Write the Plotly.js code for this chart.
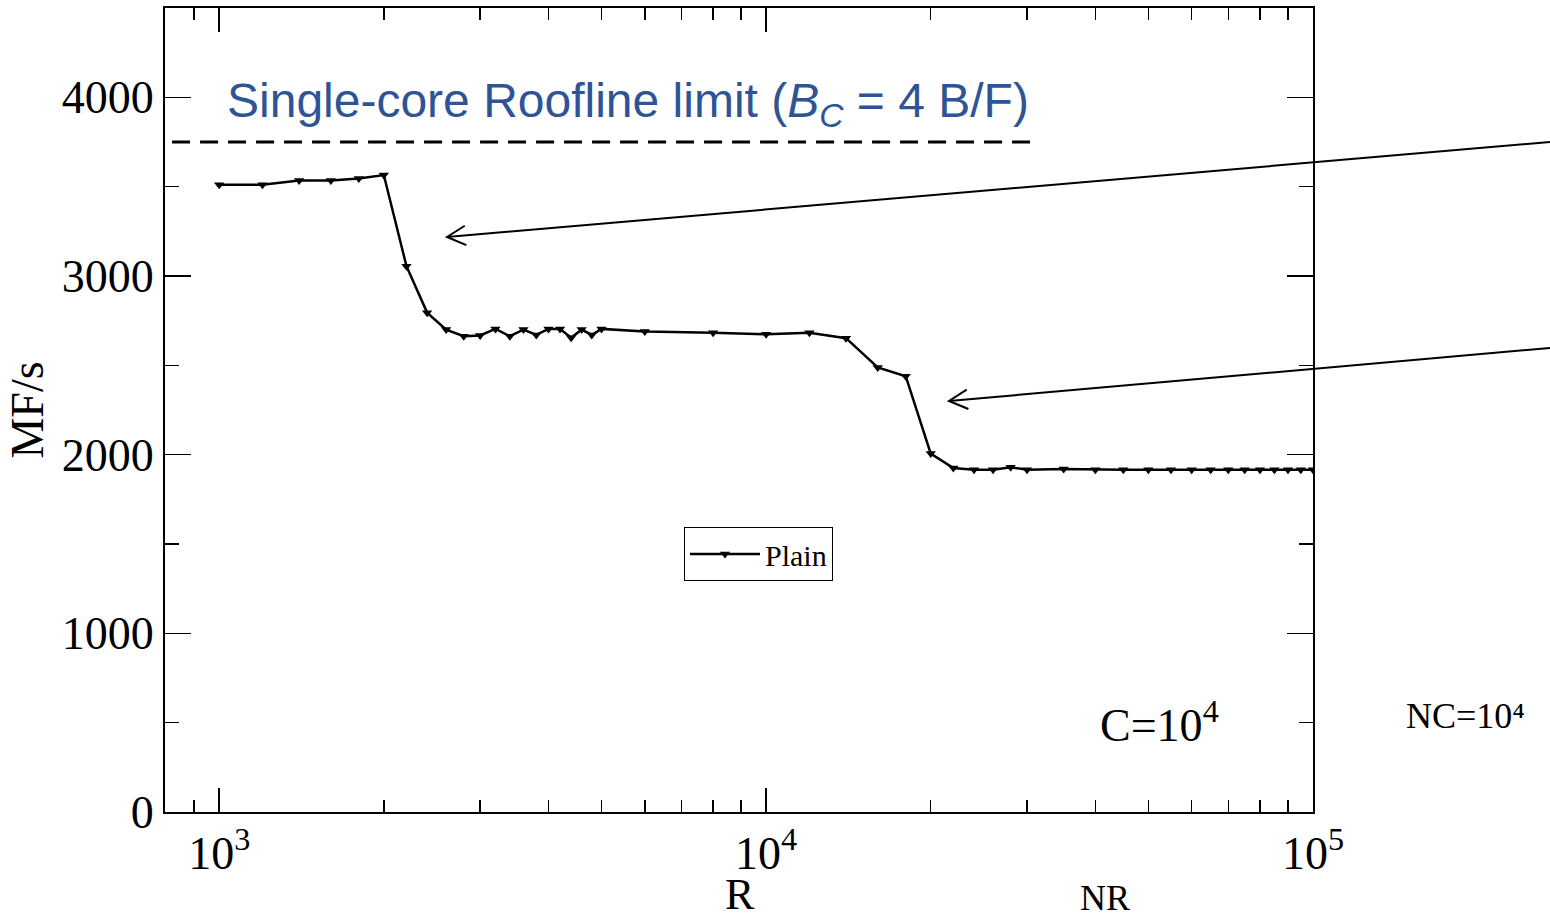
<!DOCTYPE html>
<html>
<head>
<meta charset="utf-8">
<script src="https://cdn.plot.ly/plotly-3.0.1.min.js"></script>
<style>html,body{margin:0;padding:0;background:#fff;}#chart{width:1550px;height:922px;}</style>
</head>
<body>
<div id="chart"></div>
<script>
// ---- data ----
const R = [1000,1200,1400,1600,1800,2000,2200,2400,2600,2800,3000,3200,3400,3600,3800,4000,4200,4400,4600,4800,5000,6000,8000,10000,12000,14000,16000,18000,20000,22000,24000,26000,28000,30000,35000,40000,45000,50000,55000,60000,65000,70000,75000,80000,85000,90000,95000,100000];
const MFs = [3511,3511,3535,3535,3546,3565,3055,2795,2700,2663,2667,2704,2663,2700,2670,2704,2704,2654,2700,2670,2704,2689,2682,2674,2682,2652,2488,2439,2006,1925,1916,1916,1929,1916,1920,1916,1916,1916,1916,1916,1916,1916,1916,1916,1916,1916,1916,1916];
const rooflineX = [820, 31000];
const rooflineY = [3750, 3750];
const xTickVals = [1000, 10000, 100000];
const xTickText = ['10<sup>3</sup>', '10<sup>4</sup>', '10<sup>5</sup>'];
const xMinorVals = [900,2000,3000,4000,5000,6000,7000,8000,9000,20000,30000,40000,50000,60000,70000,80000,90000];
const yTickVals = [0, 1000, 2000, 3000, 4000];
const yMinorVals = [500, 1500, 2500, 3500];

// ---- geometry helpers (plot area in page pixels) ----
const L = 165, RGT = 1313, T = 8, B = 812;
const px = x => (x - L) / (RGT - L);
const py = y => (B - y) / (B - T);

function arrowShapes(x0, y0, x1, y1, len, halfAng) {
  // head at (x0,y0), tail at (x1,y1), page pixel coords
  const dx = x1 - x0, dy = y1 - y0, d = Math.hypot(dx, dy);
  const ux = dx / d, uy = dy / d;
  const c = Math.cos(halfAng), s = Math.sin(halfAng);
  const a1 = [x0 + len * (ux * c - uy * s), y0 + len * (ux * s + uy * c)];
  const a2 = [x0 + len * (ux * c + uy * s), y0 + len * (-ux * s + uy * c)];
  const ln = {color: 'black', width: 2};
  return [
    {type: 'line', xref: 'paper', yref: 'paper', x0: px(x0), y0: py(y0), x1: px(x1), y1: py(y1), line: ln},
    {type: 'path', xref: 'paper', yref: 'paper',
     path: `M ${px(a1[0])} ${py(a1[1])} L ${px(x0)} ${py(y0)} L ${px(a2[0])} ${py(a2[1])}`, line: ln}
  ];
}

const serif = 'Liberation Serif, Times New Roman, serif';

const traces = [
  {
    x: R, y: MFs, type: 'scatter', mode: 'lines+markers', name: 'Plain',
    line: {color: 'black', width: 2.5},
    marker: {symbol: 'triangle-down', size: 9, color: 'black'}
  },
  {
    x: rooflineX, y: rooflineY, type: 'scatter', mode: 'lines', showlegend: false,
    line: {color: 'black', width: 3, dash: '18px,10px'}, hoverinfo: 'skip'
  }
];

const axisCommon = {
  showline: true, linecolor: 'black', linewidth: 2, mirror: 'ticks',
  ticks: 'inside', tickcolor: 'black', tickwidth: 1.5,
  showgrid: false, zeroline: false,
  tickfont: {family: serif, size: 46, color: 'black'}
};

const layout = {
  width: 1550, height: 922,
  margin: {l: L, r: 1550 - RGT, t: T, b: 922 - B},
  paper_bgcolor: 'white', plot_bgcolor: 'white',
  showlegend: true,
  legend: {
    x: px(684), y: py(527), xanchor: 'left', yanchor: 'top',
    bgcolor: 'white', bordercolor: 'black', borderwidth: 1,
    itemwidth: 70,
    font: {family: serif, size: 30, color: 'black'}
  },
  xaxis: Object.assign({}, axisCommon, {
    type: 'log', range: [Math.log10(796), 5],
    tickmode: 'array', tickvals: xTickVals, ticktext: xTickText, ticklen: 24,
    minor: {tickmode: 'array', tickvals: xMinorVals, ticks: 'inside', ticklen: 12, tickcolor: 'black', tickwidth: 1.5, showgrid: false},
    automargin: false
  }),
  yaxis: Object.assign({}, axisCommon, {
    range: [0, 4500],
    tickmode: 'array', tickvals: yTickVals, ticklen: 26,
    minor: {tickmode: 'array', tickvals: yMinorVals, ticks: 'inside', ticklen: 14, tickcolor: 'black', tickwidth: 1.5, showgrid: false},
    title: {text: 'MF/s', font: {family: serif, size: 46, color: 'black'}, standoff: 4},
    automargin: false
  }),
  shapes: [].concat(
    arrowShapes(447, 237, 1550, 142, 21, 0.48),
    arrowShapes(949, 401, 1550, 348, 21, 0.48)
  ),
  annotations: [
    {xref: 'paper', yref: 'paper', x: px(225), y: py(104), xanchor: 'left', yanchor: 'middle', showarrow: false,
     text: 'Single-core Roofline limit (<i>B</i><sub><i>C</i></sub> = 4 B/F)',
     font: {family: 'Liberation Sans, Arial, sans-serif', size: 48, color: '#2F5496'}},
    {xref: 'paper', yref: 'paper', x: px(740), y: py(894), xanchor: 'center', yanchor: 'middle', showarrow: false,
     text: 'R', font: {family: serif, size: 44, color: 'black'}},
    {xref: 'paper', yref: 'paper', x: px(1098), y: py(722), xanchor: 'left', yanchor: 'middle', showarrow: false,
     text: 'C=10<sup>4</sup>', font: {family: serif, size: 46, color: 'black'}},
    {xref: 'paper', yref: 'paper', x: px(1404), y: py(716), xanchor: 'left', yanchor: 'middle', showarrow: false,
     text: 'NC=10⁴', font: {family: serif, size: 36, color: 'black'}},
    {xref: 'paper', yref: 'paper', x: px(1105), y: py(898), xanchor: 'center', yanchor: 'middle', showarrow: false,
     text: 'NR', font: {family: serif, size: 36, color: 'black'}}
  ]
};

Plotly.newPlot('chart', traces, layout, {displayModeBar: false, staticPlot: true});
</script>
</body>
</html>
